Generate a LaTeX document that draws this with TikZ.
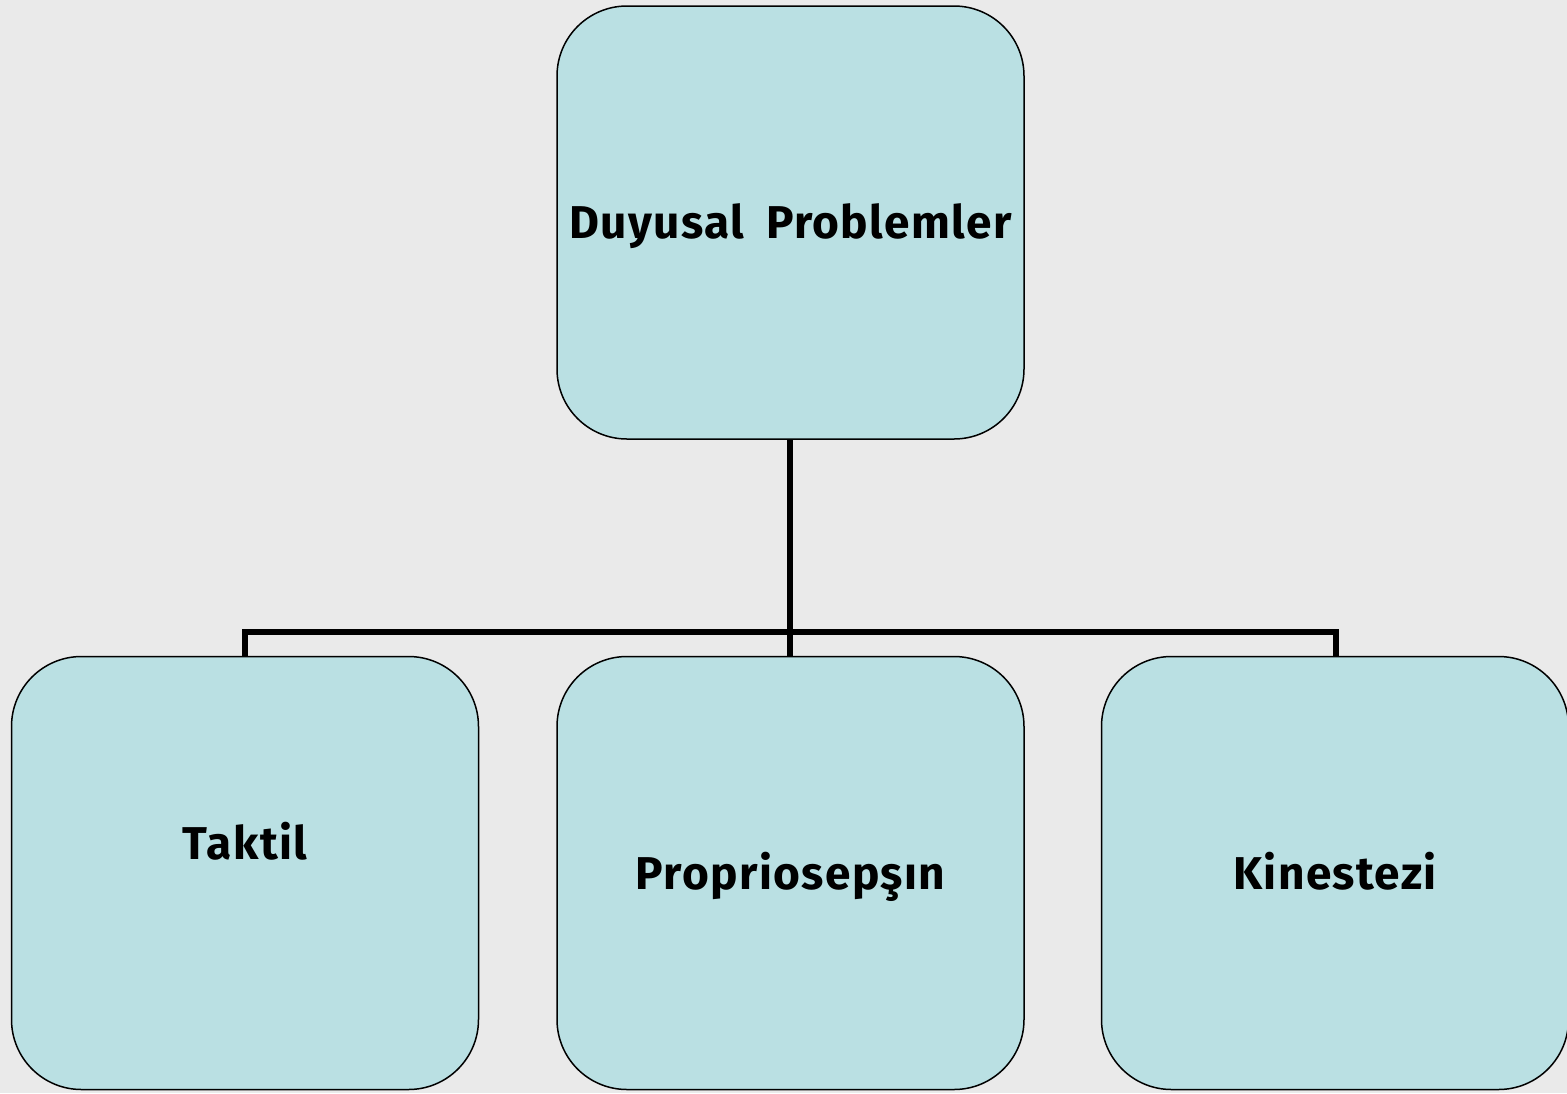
\documentclass[tikz,border=0pt]{standalone}
\usepackage{fontspec}
\setmainfont{Fira Sans}[LetterSpace=3,WordSpace=1.8]
\newcommand{\cappos}[2]{\raisebox{#1}[0pt][0pt]{#2}}
\begin{document}
\begin{tikzpicture}[x=1pt,y=-1pt,
  box/.style={draw=black,line width=1.5pt,fill=boxfill,rounded corners=70pt,
    minimum width=467pt,minimum height=433pt,inner sep=0pt,
    font=\fontsize{46}{52}\selectfont\bfseries},
  conn/.style={draw=black,line width=5.5pt}]
\definecolor{bg}{HTML}{EAEAEA}
\definecolor{boxfill}{HTML}{BAE0E3}
\fill[bg] (0,0) rectangle (1567,1093);
\useasboundingbox (0,0) rectangle (1567,1093);
\draw[conn] (790,439) -- (790,657);
\draw[conn] (245,657) -- (245,632) -- (1336,632) -- (1336,657);
\node[box] (top) at (790.5,222.5) {\cappos{-16pt}{Duyusal Problemler}};
\node[box] (left) at (245,873) {\cappos{14pt}{Taktil}};
\node[box] (mid) at (790.5,873) {\cappos{-16pt}{Propriosepşın}};
\node[box] (right) at (1335,873) {\cappos{-16pt}{Kinestezi}};
\end{tikzpicture}
\end{document}
